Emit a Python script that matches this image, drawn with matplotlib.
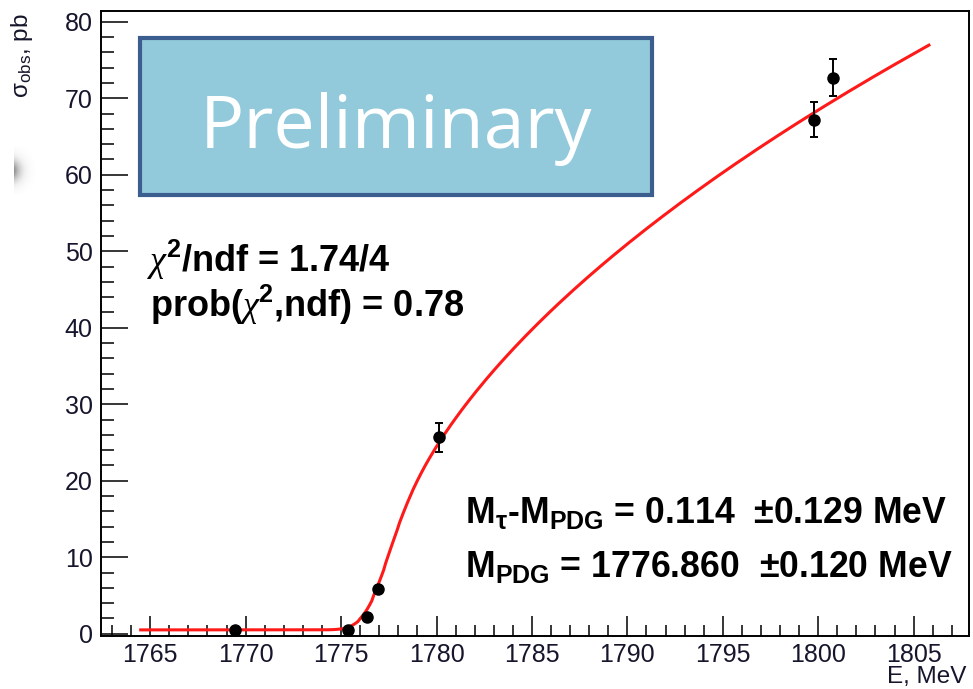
import numpy as np
import matplotlib.pyplot as plt
from matplotlib.patches import Rectangle
from matplotlib.ticker import MultipleLocator

# scan points: beam energy (MeV), observed cross section (pb) and errors
energy = np.array([1769.45, 1775.35, 1776.35, 1776.92, 1780.15, 1799.80, 1800.75])
sigma_obs = np.array([0.45, 0.45, 2.2, 5.8, 25.7, 67.2, 72.7])
sigma_err = np.array([0.3, 0.3, 0.4, 0.5, 1.9, 2.3, 2.4])

m_pdg = 1776.860
m_pdg_err = 0.120
dm = 0.114
dm_err = 0.129
chi2, ndf, prob = 1.74, 4, 0.78

# fit model parameters
m_tau = m_pdg + dm
alpha = 1 / 137.036
t_isr = 0.078
spread = 0.9
bkg = 0.5
e_lo, e_hi = 1764.5, 1805.8


def born(e):
    beta = np.sqrt(np.clip(1 - (m_tau / e) ** 2, 0, None))
    out = np.zeros_like(e)
    ok = beta > 0
    b = beta[ok]
    x = np.pi * alpha / b
    out[ok] = b * (3 - b ** 2) / 2 * x / (-np.expm1(-x))
    return out


def shape(e):
    # ISR radiator (u = x^t) and gaussian energy spread
    u = (np.arange(200) + 0.5) / 200
    frac = u ** (1 / t_isr)
    d = np.linspace(-4, 4, 81)
    w = np.exp(-0.5 * d ** 2)
    w /= w.sum()
    ee = (e[:, None] + spread * d[None, :])[:, :, None] * np.sqrt(1 - frac)[None, None, :]
    val = born(ee.ravel()).reshape(ee.shape).mean(axis=2)
    return (val * w[None, :]).sum(axis=1)


f_pts = shape(energy)
wts = 1 / sigma_err ** 2
norm = np.sum(wts * (sigma_obs - bkg) * f_pts) / np.sum(wts * f_pts ** 2)

e_curve = np.linspace(e_lo, e_hi, 400)
s_curve = bkg + norm * shape(e_curve)

W, H = 973, 689
fig = plt.figure(figsize=(W / 100, H / 100), dpi=100)
ax = fig.add_axes([101 / W, 53 / H, 868 / W, 625 / H])

ax.plot(e_curve, s_curve, color='#ff1a1a', lw=2.2, zorder=2)
ax.errorbar(energy, sigma_obs, yerr=sigma_err, fmt='o', color='black',
            ms=8, elinewidth=1.4, capsize=3, capthick=1.4, zorder=3)

ax.set_xlim(1762.42, 1807.9)
ax.set_ylim(-0.3, 81.4)
ax.xaxis.set_major_locator(MultipleLocator(5))
ax.xaxis.set_minor_locator(MultipleLocator(1))
ax.yaxis.set_major_locator(MultipleLocator(10))
ax.yaxis.set_minor_locator(MultipleLocator(2))
ax.tick_params(which='both', direction='in', top=False, right=False,
               width=1.1, labelsize=18, labelcolor='#15152c')
ax.tick_params(axis='y', which='major', length=19.5, pad=6)
ax.tick_params(axis='y', which='minor', length=9.4)
ax.tick_params(axis='x', which='major', length=14.4, pad=5)
ax.tick_params(axis='x', which='minor', length=8)
for lab in ax.get_xticklabels() + ax.get_yticklabels():
    lab.set_fontfamily('Liberation Sans')
for s in ax.spines.values():
    s.set_linewidth(1.4)

plt.rcParams['mathtext.fontset'] = 'custom'
plt.rcParams['mathtext.rm'] = 'Liberation Sans:bold'
plt.rcParams['mathtext.bf'] = 'Liberation Sans:bold'
plt.rcParams['mathtext.it'] = 'Liberation Sans:bold'
plt.rcParams['mathtext.sf'] = 'Liberation Serif:italic'


def px(x, y):
    return x / W, 1 - y / H


fig.text(*px(22, 13), r'σ$_{\mathregular{obs}}$, pb', rotation=90, ha='center', va='top',
         fontsize=17.5, family='Liberation Sans', color='#15152c')
fig.text(*px(966, 688), 'E, MeV', ha='right', va='bottom', fontsize=17.5,
         family='Liberation Sans', color='#15152c')

bold = dict(family='Liberation Sans', fontweight='bold', va='baseline')
fig.text(*px(147, 272), rf'$\mathsf{{\chi}}^{{2}}$/ndf = {chi2:.2f}/{ndf}', fontsize=26, **bold)
fig.text(*px(150, 317), rf'prob($\mathsf{{\chi}}^{{2}}$,ndf) = {prob:.2f}', fontsize=26, **bold)
fig.text(*px(465, 523), rf'M$_\tau$-M$_{{PDG}}$ = {dm:.3f}  $\pm${dm_err:.3f} MeV', fontsize=25.7, **bold)
fig.text(*px(465, 577), rf'M$_{{PDG}}$ = {m_pdg:.3f}  $\pm${m_pdg_err:.3f} MeV', fontsize=25.7, **bold)

# preliminary banner
fig.patches.append(Rectangle(px(140, 195), 512 / W, 157 / H, transform=fig.transFigure,
                             facecolor='#92cadc', edgecolor='#3b5e8e', lw=3, zorder=5))
fig.text(*px(396, 148), 'Preliminary', ha='center', va='baseline', fontsize=53,
         family='Open Sans', color='white', zorder=6)

# grey shadow at the left edge
sh = fig.add_axes([14 / W, 1 - 194 / H, 22 / W, 48 / H])
yy, xx = np.mgrid[0:48, 0:22]
r = np.hypot(xx + 6, yy - 24)
sh.imshow(np.exp(-(r / 13) ** 2), cmap='Greys', vmin=0, vmax=1.6, aspect='auto')
sh.axis('off')

fig.savefig('out.png', dpi=100)
